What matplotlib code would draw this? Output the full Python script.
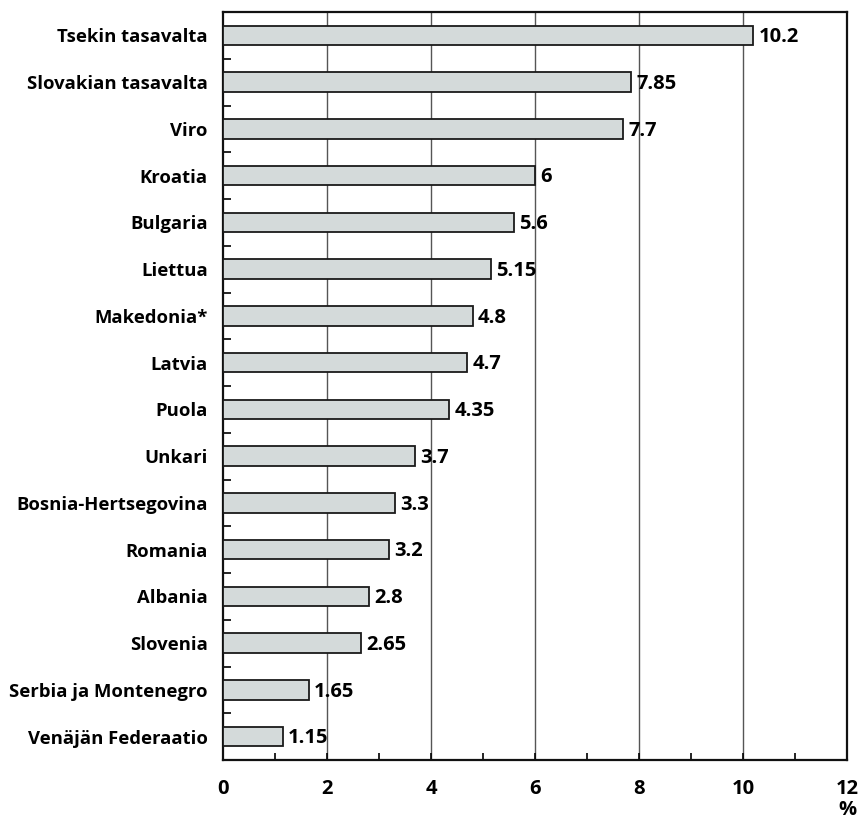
import numpy as np
import matplotlib.pyplot as plt
from matplotlib.ticker import MultipleLocator

countries = [
    "Tsekin tasavalta",
    "Slovakian tasavalta",
    "Viro",
    "Kroatia",
    "Bulgaria",
    "Liettua",
    "Makedonia*",
    "Latvia",
    "Puola",
    "Unkari",
    "Bosnia-Hertsegovina",
    "Romania",
    "Albania",
    "Slovenia",
    "Serbia ja Montenegro",
    "Venäjän Federaatio",
]
values = [10.2, 7.85, 7.7, 6, 5.6, 5.15, 4.8, 4.7, 4.35, 3.7, 3.3, 3.2, 2.8, 2.65, 1.65, 1.15]
value_labels = ["10.2", "7.85", "7.7", "6", "5.6", "5.15", "4.8", "4.7", "4.35",
                "3.7", "3.3", "3.2", "2.8", "2.65", "1.65", "1.15"]
x_ticks = [0, 2, 4, 6, 8, 10, 12]

plt.rcParams["font.family"] = ["Open Sans", "DejaVu Sans"]
plt.rcParams["font.weight"] = "bold"

fig = plt.figure(figsize=(8.61, 8.19), dpi=100)
ax = fig.add_axes([223 / 861, 1 - 760 / 819, 624 / 861, 748 / 819])

n = len(countries)
ypos = np.arange(n)
ax.barh(ypos, values, height=0.42, color="#d4dada", edgecolor="#1a1a1a",
        linewidth=1.3, zorder=3)
for y, v, lab in zip(ypos, values, value_labels):
    ax.text(v + 0.1, y + 0.04, lab, va="center", ha="left", fontsize=14.5,
            fontweight="bold", zorder=4)

ax.set_xlim(0, 12)
ax.set_ylim(n - 0.5, -0.5)
ax.set_xticks(x_ticks)
ax.set_xticklabels([str(t) for t in x_ticks], fontsize=14.5, fontweight="bold")
ax.xaxis.set_minor_locator(MultipleLocator(1))
ax.tick_params(axis="x", which="both", direction="in", length=5, width=1.2, pad=14)
for t in x_ticks[1:-1]:
    ax.axvline(t, color="#555555", linewidth=1.0, zorder=1)

# category labels at bar centres, boundary ticks between them
ax.set_yticks(ypos)
ax.set_yticklabels(countries, fontsize=13.3, fontweight="bold")
ax.tick_params(axis="y", which="major", length=0, pad=11)
ax.set_yticks(np.arange(n - 1) + 0.5, minor=True)
ax.tick_params(axis="y", which="minor", direction="in", length=6, width=1.2)

for s in ax.spines.values():
    s.set_linewidth(1.6)
    s.set_color("#111111")

fig.text(847 / 861, 1 - 810 / 819, "%", ha="center", va="center",
         fontsize=14.5, fontweight="bold")

fig.savefig("out.png", dpi=100)
